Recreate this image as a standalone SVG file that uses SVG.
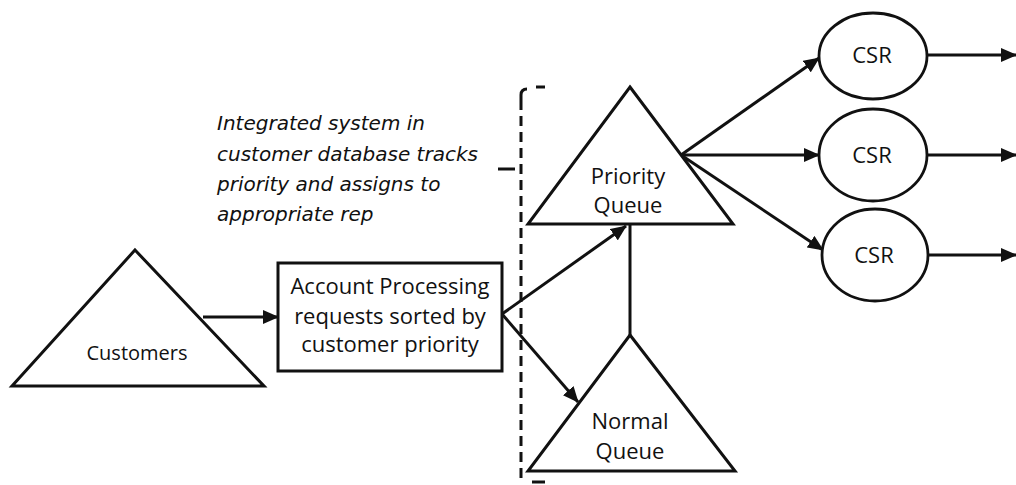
<svg xmlns="http://www.w3.org/2000/svg" width="1016" height="485" viewBox="0 0 1016 485">
  <style>
    .shape { fill: #ffffff; stroke: #111111; stroke-width: 3; stroke-linejoin: miter; }
    .ell { fill: #ffffff; stroke: #111111; stroke-width: 2.8; }
    .conn { fill: none; stroke: #111111; stroke-width: 3; }
    .arrow { fill: none; stroke: #111111; stroke-width: 3; marker-end: url(#ah); }
    .dash { fill: none; stroke: #111111; stroke-width: 3; }
    .lbl { font-family: "Open Sans", "Liberation Sans", sans-serif; fill: #111111; text-anchor: middle; }
    .note { font-family: "DejaVu Sans", "Liberation Sans", sans-serif; font-style: italic; font-size: 20px; fill: #111111; }
  </style>
  <defs>
    <marker id="ah" viewBox="0 0 16 14" refX="15" refY="7" markerWidth="16" markerHeight="14" markerUnits="userSpaceOnUse" orient="auto">
      <path d="M0,0 L16,7 L0,14 Z" fill="#111111"/>
    </marker>
  </defs>
  <rect x="0" y="0" width="1016" height="485" fill="#ffffff"/>

  <g id="note">
    <text class="note" x="217" y="130">Integrated system in</text>
    <text class="note" x="217" y="161">customer database tracks</text>
    <text class="note" x="217" y="191">priority and assigns to</text>
    <text class="note" x="217" y="221">appropriate rep</text>
  </g>

  <g id="boundary">
    <path class="dash" d="M521,100 L521,478" stroke-dasharray="10,6"/>
    <path class="dash" d="M521,100 L521,95 Q521,89 527,89"/>
    <path class="dash" d="M536,87 L545,87"/>
    <path class="dash" d="M498,169 L515,169"/>
    <path class="dash" d="M532,482 L545,482"/>
  </g>

  <g id="connectors">
    <line class="arrow" x1="203" y1="317" x2="278" y2="317"/>
    <line class="arrow" x1="502" y1="314" x2="626" y2="226"/>
    <line class="arrow" x1="502" y1="314" x2="578" y2="402"/>
    <line class="conn" x1="630" y1="335" x2="630" y2="225"/>
    <line class="arrow" x1="681" y1="155" x2="819" y2="58"/>
    <line class="arrow" x1="681" y1="155" x2="819" y2="155"/>
    <line class="arrow" x1="681" y1="155" x2="823" y2="250"/>
    <line class="arrow" x1="927" y1="55" x2="1016" y2="55"/>
    <line class="arrow" x1="927" y1="155" x2="1016" y2="155"/>
    <line class="arrow" x1="928" y1="255" x2="1016" y2="255"/>
  </g>

  <g id="customers">
    <polygon class="shape" points="135,250 264,386 12,386"/>
    <text class="lbl" x="137" y="360" font-size="20">Customers</text>
  </g>

  <g id="account-processing">
    <rect class="shape" x="278" y="263" width="224" height="108"/>
    <text class="lbl" x="390" y="294" font-size="22">Account Processing</text>
    <text class="lbl" x="390" y="324" font-size="22">requests sorted by</text>
    <text class="lbl" x="390" y="352" font-size="22">customer priority</text>
  </g>

  <g id="priority-queue">
    <polygon class="shape" points="630,87 733,224 528,224"/>
    <text class="lbl" x="628" y="184" font-size="22">Priority</text>
    <text class="lbl" x="628" y="213" font-size="22">Queue</text>
  </g>

  <g id="normal-queue">
    <polygon class="shape" points="630,335 735,471 528,471"/>
    <text class="lbl" x="630" y="429" font-size="22">Normal</text>
    <text class="lbl" x="630" y="459" font-size="22">Queue</text>
  </g>

  <g id="csr-1">
    <ellipse class="ell" cx="873" cy="56" rx="54" ry="43"/>
    <text class="lbl" x="872" y="63" font-size="22">CSR</text>
  </g>
  <g id="csr-2">
    <ellipse class="ell" cx="873" cy="155" rx="54" ry="46"/>
    <text class="lbl" x="872" y="163" font-size="22">CSR</text>
  </g>
  <g id="csr-3">
    <ellipse class="ell" cx="875" cy="255" rx="53" ry="46"/>
    <text class="lbl" x="874" y="263" font-size="22">CSR</text>
  </g>
</svg>
